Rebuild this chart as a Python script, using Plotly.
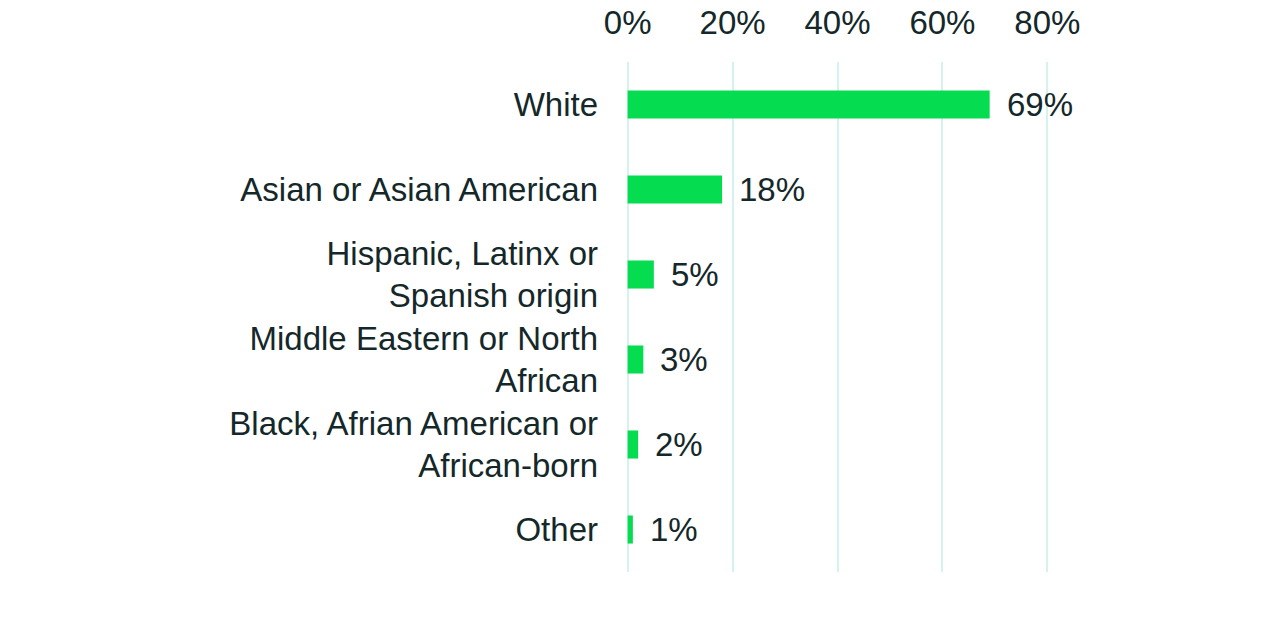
import plotly.graph_objects as go

# categories top to bottom
categories = [
    "White",
    "Asian or Asian American",
    "Hispanic, Latinx or<br>Spanish origin",
    "Middle Eastern or North<br>African",
    "Black, Afrian American or<br>African-born",
    "Other",
]
values = [69, 18, 5, 3, 2, 1]
tick_vals = [0, 20, 40, 60, 80]
tick_text = ["0%", "20%", "40%", "60%", "80%"]

text_color = "#14282a"
font_family = "Liberation Sans, Arial, sans-serif"
fsize = 33

fig = go.Figure(go.Bar(
    x=values,
    y=categories,
    orientation="h",
    marker=dict(color="#05dc50", line=dict(width=0)),
    width=0.33,
    hoverinfo="x+y",
))

# value labels a bit away from the bar ends
for v, c in zip(values, categories):
    fig.add_annotation(
        x=v, y=c, text=f"{v}%",
        showarrow=False, xanchor="left", yanchor="middle",
        xshift=15,
        font=dict(size=fsize, color=text_color, family=font_family),
    )

fig.update_xaxes(
    side="top",
    range=[-0.5, 80.5],  # a little slack so the 0 and 80 gridlines show
    tickvals=tick_vals,
    ticktext=tick_text,
    showgrid=True,
    gridcolor="#d4f2f0",
    gridwidth=2,
    zeroline=False,
    showline=False,
    tickfont=dict(size=fsize, color=text_color, family=font_family),
    ticklabelstandoff=20,
    automargin=False,
)
fig.update_yaxes(
    autorange="reversed",
    showgrid=False,
    zeroline=False,
    showline=False,
    tickfont=dict(size=fsize, color=text_color, family=font_family),
    ticklabelstandoff=26,
    automargin=False,
)

fig.update_layout(
    width=1280,
    height=624,
    margin=dict(l=625, r=230, t=62, b=52),
    plot_bgcolor="white",
    paper_bgcolor="white",
    showlegend=False,
)

# drop the default 8px body margin so the figure sits at the page corner
fig.write_html("out.html", config={"displayModeBar": False},
               post_script="document.body.style.margin='0';")
